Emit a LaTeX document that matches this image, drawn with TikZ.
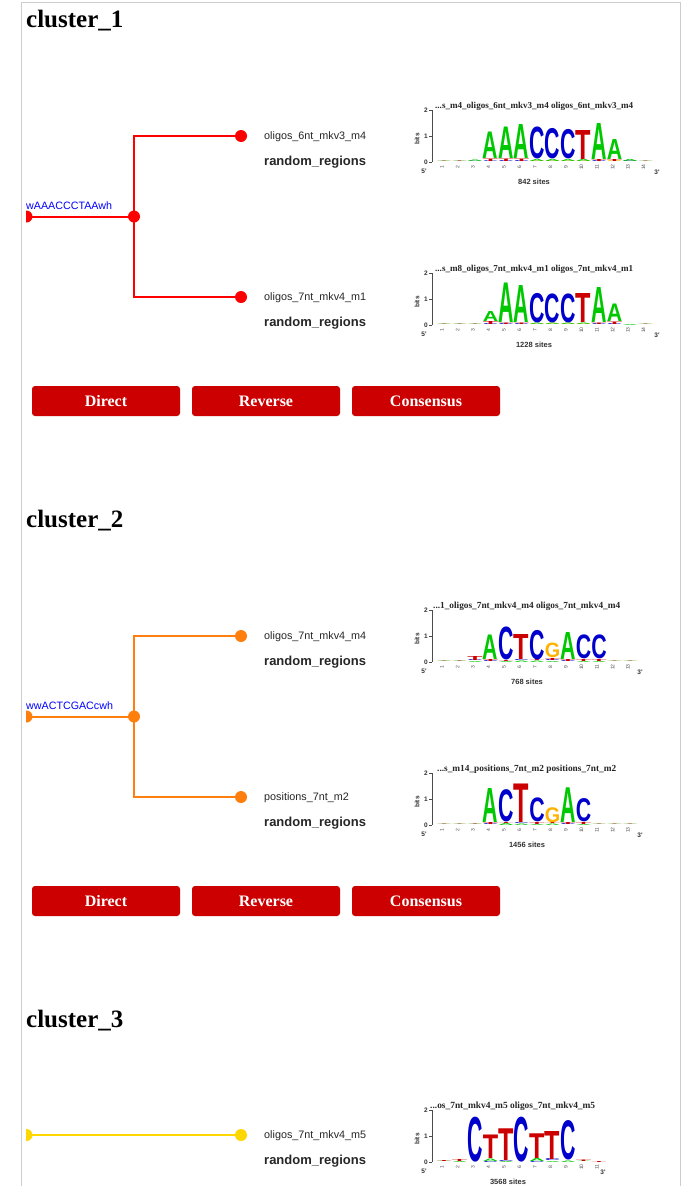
\documentclass[tikz,border=0pt]{standalone}
\usepackage{graphicx}
\usepackage{fontspec}
\setmainfont{Liberation Serif}
\newfontfamily\hv{Liberation Sans}
\definecolor{cred}{HTML}{FF0000}
\definecolor{corange}{HTML}{FF7F0E}
\definecolor{cgold}{HTML}{FFD700}
\definecolor{btnred}{HTML}{CC0000}
\definecolor{framegray}{HTML}{CCCCCC}
\definecolor{seqblue}{HTML}{0000FF}
\definecolor{lA}{HTML}{00C800}
\definecolor{lC}{HTML}{0000CC}
\definecolor{lG}{HTML}{FFB300}
\definecolor{lT}{HTML}{CC0000}
\tikzset{
  frameline/.style={draw=framegray, line width=1pt},
  ctitle/.style={font=\fontsize{25}{25}\selectfont\bfseries, anchor=base west, inner sep=0pt},
  branch/.style={line width=2pt},
  dot/.style={circle, inner sep=0pt, minimum size=12pt},
  seqlab/.style={font=\hv\fontsize{10.7}{10.7}\selectfont, text=seqblue, anchor=base west, inner sep=0pt},
  leaflab/.style={font=\hv\fontsize{10.8}{10.8}\selectfont, anchor=base west, inner sep=0pt, text=black!85},
  regionlab/.style={font=\hv\bfseries\fontsize{13}{13}\selectfont, anchor=base west, inner sep=0pt, text=black!85},
  button/.style={fill=btnred, rounded corners=3pt, minimum width=148pt, minimum height=30pt, inner sep=0pt, text=white, font=\fontsize{16}{16}\selectfont\bfseries},
  ltitle/.style={font=\bfseries\fontsize{8}{8}\selectfont, anchor=base west, inner sep=0pt, text=black!85},
  axisline/.style={line width=0.6pt, draw=black!70},
  axnum/.style={font=\hv\bfseries\fontsize{6.5}{6.5}\selectfont, inner sep=0pt, text=black!80},
  colnum/.style={font=\hv\fontsize{5}{5}\selectfont, inner sep=0pt, text=black!70},
  sites/.style={font=\hv\bfseries\fontsize{7.5}{7.5}\selectfont, inner sep=0pt, text=black!80}
}
% one stacked column of a sequence logo: #1 zero line y, #2 column index, #3 list letter/colour/height (bottom to top)
\newcommand\lcol[3]{%
  \xdef\cury{#1}%
  \foreach \ltr/\lcl/\lht in {#3}{%
    \node[inner sep=0pt, outer sep=0pt, anchor=south, text=\lcl] at ({444+15.5*(#2-1)},\cury) {\resizebox*{15.4pt}{\lht pt}{\hv\bfseries\ltr}};%
    \pgfmathsetmacro\tmpy{\cury-\lht}\xdef\cury{\tmpy}%
  }}
% axes of a logo: #1 zero y, #2 ncols, #3 x of 3', #4 title x, #5 title width, #6 title, #7 sites x, #8 sites
\newcommand\logoaxes[8]{%
  \draw[axisline] (432,#1-52) -- (432,#1);
  \foreach \k in {0,1,2}{%
    \draw[axisline] (429,#1-26*\k) -- (432,#1-26*\k);
    \node[axnum, anchor=east] at (428,#1-26*\k) {\k};}
  \node[axnum, rotate=90] at (417,#1-23) {bits};
  \node[axnum] at (424,#1+9) {5'};
  \node[axnum] at (#3,#1+10) {3'};
  \foreach \i in {1,...,#2}{\node[colnum, rotate=90] at ({442+15.5*(\i-1)},#1+5) {\i};}
  \node[ltitle] at (#4,#1-54) {\resizebox{#5pt}{!}{#6}};
  \node[sites] at (#7,#1+20) {#8};
}
\begin{document}
\begin{tikzpicture}[x=1pt,y=-1pt]
\useasboundingbox (0,0) rectangle (688,1186);
\fill[white] (0,0) rectangle (688,1186);
\draw[frameline] (21,1186) -- (21,2.3) -- (680.7,2.3) -- (680.7,1186);

%================ cluster 1
\node[ctitle] (t1) at (26,27.5) {cluster\_1};
\begin{scope}\clip (26,150) rectangle (40,280);
  \node[dot, fill=cred] (r1) at (26.5,216.5) {};
\end{scope}
\node[dot, fill=cred] (i1) at (134,216.5) {};
\node[dot, fill=cred] (l11) at (241,136) {};
\node[dot, fill=cred] (l12) at (241,297) {};
\draw[branch, cred] (r1.center) -- (i1.center);
\draw[branch, cred] (i1.center) |- (l11.center);
\draw[branch, cred] (i1.center) |- (l12.center);
\node[seqlab] (q1) at (26,209.5) {wAAACCCTAAwh};
\node[leaflab] (n11) at (264,139.5) {oligos\_6nt\_mkv3\_m4};
\node[regionlab] (g11) at (264,165.5) {random\_regions};
\node[leaflab] (n12) at (264,300.5) {oligos\_7nt\_mkv4\_m1};
\node[regionlab] (g12) at (264,326.5) {random\_regions};
\node[button] (b11) at (106,401) {Direct};
\node[button] (b12) at (266,401) {Reverse};
\node[button] (b13) at (426,401) {Consensus};

% logo 1
\logoaxes{162}{14}{657}{435}{198}{...s\_m4\_oligos\_6nt\_mkv3\_m4 oligos\_6nt\_mkv3\_m4}{534}{842 sites}
\lcol{162}{1}{A/lA/0.5,T/lT/0.4}
\lcol{162}{2}{A/lA/0.5,T/lT/0.5}
\lcol{162}{3}{C/lC/0.5,A/lA/1.5}
\lcol{162}{4}{C/lC/0.8,T/lT/2.5,A/lA/26.5}
\lcol{162}{5}{C/lC/1,T/lT/2.5,A/lA/31.5}
\lcol{162}{6}{C/lC/1,T/lT/2.5,A/lA/34}
\lcol{162}{7}{G/lG/1,A/lA/2,C/lC/32}
\lcol{162}{8}{G/lG/1,A/lA/2,C/lC/30.5}
\lcol{162}{9}{G/lG/1,A/lA/2,C/lC/29.5}
\lcol{162}{10}{G/lG/1,A/lA/2,T/lT/29}
\lcol{162}{11}{C/lC/1,T/lT/2,A/lA/36}
\lcol{162}{12}{G/lG/1,T/lT/2,A/lA/20}
\lcol{162}{13}{C/lC/1,A/lA/2}
\lcol{162}{14}{A/lA/0.4,T/lT/0.4}

% logo 2
\logoaxes{325}{14}{657}{435}{198}{...s\_m8\_oligos\_7nt\_mkv4\_m1 oligos\_7nt\_mkv4\_m1}{534}{1228 sites}
\lcol{325}{1}{A/lA/0.5,T/lT/0.4}
\lcol{325}{2}{A/lA/0.5,T/lT/0.4}
\lcol{325}{3}{A/lA/0.5,T/lT/0.4}
\lcol{325}{4}{C/lC/1,T/lT/3,A/lA/10}
\lcol{325}{5}{C/lC/1,T/lT/1.5,A/lA/39.5}
\lcol{325}{6}{C/lC/1,T/lT/1.5,A/lA/37}
\lcol{325}{7}{G/lG/1,A/lA/1.5,C/lC/29.5}
\lcol{325}{8}{G/lG/1,A/lA/1.5,C/lC/29}
\lcol{325}{9}{G/lG/1,A/lA/1.5,C/lC/29}
\lcol{325}{10}{G/lG/1,A/lA/1.5,T/lT/29}
\lcol{325}{11}{C/lC/1,T/lT/1.5,A/lA/35}
\lcol{325}{12}{C/lC/1,T/lT/2.5,A/lA/17.5}
\lcol{325}{13}{A/lA/1}
\lcol{325}{14}{A/lA/0.4,T/lT/0.4}

%================ cluster 2
\begin{scope}[shift={(0,500)}]
\node[ctitle] (t2) at (26,27.5) {cluster\_2};
\begin{scope}\clip (26,150) rectangle (40,280);
  \node[dot, fill=corange] (r2) at (26.5,216.5) {};
\end{scope}
\node[dot, fill=corange] (i2) at (134,216.5) {};
\node[dot, fill=corange] (l21) at (241,136) {};
\node[dot, fill=corange] (l22) at (241,297) {};
\draw[branch, corange] (r2.center) -- (i2.center);
\draw[branch, corange] (i2.center) |- (l21.center);
\draw[branch, corange] (i2.center) |- (l22.center);
\node[seqlab] (q2) at (26,209.5) {wwACTCGACcwh};
\node[leaflab] (n21) at (264,139.5) {oligos\_7nt\_mkv4\_m4};
\node[regionlab] (g21) at (264,165.5) {random\_regions};
\node[leaflab] (n22) at (264,300.5) {positions\_7nt\_m2};
\node[regionlab] (g22) at (264,326.5) {random\_regions};
\node[button] (b21) at (106,401) {Direct};
\node[button] (b22) at (266,401) {Reverse};
\node[button] (b23) at (426,401) {Consensus};

% logo 3
\logoaxes{162}{13}{640}{433}{187}{...1\_oligos\_7nt\_mkv4\_m4 oligos\_7nt\_mkv4\_m4}{527}{768 sites}
\lcol{162}{1}{A/lA/0.5,T/lT/0.4}
\lcol{162}{2}{A/lA/0.5,T/lT/0.5}
\lcol{162}{3}{A/lA/1,C/lC/1,T/lT/4}
\lcol{162}{4}{C/lC/1,T/lT/2,A/lA/24.5}
\lcol{162}{5}{A/lA/1,T/lT/1,C/lC/33}
\lcol{162}{6}{A/lA/1.5,C/lC/1,T/lT/25}
\lcol{162}{7}{A/lA/1.5,T/lT/1,C/lC/29.5}
\lcol{162}{8}{A/lA/1,C/lC/1,T/lT/2,G/lG/14.7}
\lcol{162}{9}{C/lC/1,T/lT/2,A/lA/27}
\lcol{162}{10}{A/lA/1,T/lT/2,C/lC/24}
\lcol{162}{11}{A/lA/1,T/lT/2,C/lC/24}
\lcol{162}{12}{A/lA/0.4,T/lT/0.4}
\lcol{162}{13}{A/lA/0.4,T/lT/0.4}

% logo 4
\logoaxes{325}{13}{640}{437}{179}{...s\_m14\_positions\_7nt\_m2 positions\_7nt\_m2}{527}{1456 sites}
\lcol{325}{1}{A/lA/0.4,T/lT/0.4}
\lcol{325}{2}{A/lA/0.4,T/lT/0.4}
\lcol{325}{3}{A/lA/0.5,T/lT/0.5}
\lcol{325}{4}{C/lC/1,T/lT/2,A/lA/34}
\lcol{325}{5}{A/lA/2,T/lT/1,C/lC/32.3}
\lcol{325}{6}{A/lA/1.5,C/lC/1,T/lT/38.5}
\lcol{325}{7}{A/lA/1,T/lT/2,C/lC/24}
\lcol{325}{8}{A/lA/1.5,T/lT/1,G/lG/15}
\lcol{325}{9}{C/lC/1,T/lT/2,A/lA/34.7}
\lcol{325}{10}{A/lA/1,T/lT/2,C/lC/23.3}
\lcol{325}{11}{A/lA/0.4,T/lT/0.4}
\lcol{325}{12}{A/lA/0.4,T/lT/0.4}
\lcol{325}{13}{A/lA/0.4,T/lT/0.4}
\end{scope}

%================ cluster 3
\begin{scope}[shift={(0,1000)}]
\node[ctitle] (t3) at (26,27.5) {cluster\_3};
\begin{scope}\clip (26,100) rectangle (40,170);
  \node[dot, fill=cgold] (r3) at (26.5,135) {};
\end{scope}
\node[dot, fill=cgold] (l31) at (241,135) {};
\draw[branch, cgold] (r3.center) -- (l31.center);
\node[leaflab] (n31) at (264,138.5) {oligos\_7nt\_mkv4\_m5};
\node[regionlab] (g31) at (264,164.5) {random\_regions};

% logo 5
\logoaxes{162}{11}{603}{430}{165}{...os\_7nt\_mkv4\_m5 oligos\_7nt\_mkv4\_m5}{508}{3568 sites}
\lcol{162}{1}{A/lA/0.5,T/lT/1}
\lcol{162}{2}{A/lA/1,T/lT/2}
\lcol{162}{3}{C/lC/45}
\lcol{162}{4}{C/lC/1,A/lA/2.5,T/lT/23.5}
\lcol{162}{5}{A/lA/1,C/lC/1,T/lT/31.7}
\lcol{162}{6}{C/lC/45}
\lcol{162}{7}{C/lC/1,A/lA/3,T/lT/24.7}
\lcol{162}{8}{A/lA/1,C/lC/2,T/lT/28}
\lcol{162}{9}{A/lA/1.5,C/lC/39.5}
\lcol{162}{10}{A/lA/0.5,T/lT/1.5}
\lcol{162}{11}{T/lT/1}
\end{scope}
\end{tikzpicture}
\end{document}
